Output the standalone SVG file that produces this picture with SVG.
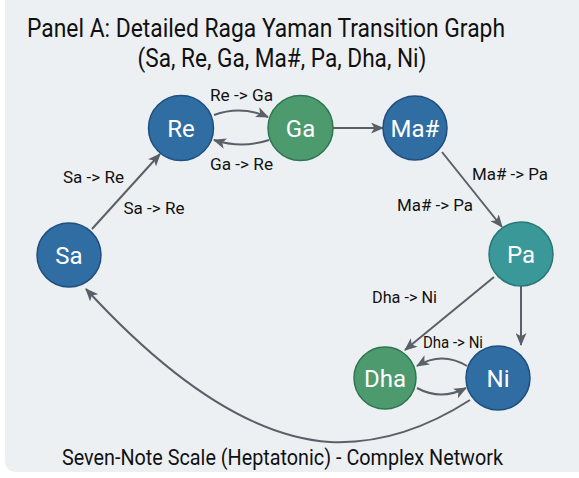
<svg xmlns="http://www.w3.org/2000/svg" width="579" height="478" viewBox="0 0 579 478">
<defs>
<marker id="ah" viewBox="0 0 12 10" refX="11" refY="5" markerWidth="13" markerHeight="11" markerUnits="userSpaceOnUse" orient="auto">
<path d="M0,0 L12,5 L0,10 L3,5 Z" fill="#5a6068"/>
</marker>
<style>
.t{font-family:Roboto,"Liberation Sans",sans-serif;fill:#111;text-anchor:middle}
.lbl{font-family:Roboto,"Liberation Sans",sans-serif;font-size:16px;fill:#111;text-anchor:middle}
.nt{font-family:Roboto,"Liberation Sans",sans-serif;font-size:24px;fill:#fff;text-anchor:middle}
.e{fill:none;stroke:#5a6068;stroke-width:2;marker-end:url(#ah)}
.blue{fill:#2f6da3;stroke:#1f4f80;stroke-width:1.5}
.green{fill:#4c9a6d;stroke:#2e7650;stroke-width:1.5}
.teal{fill:#3a9898;stroke:#287878;stroke-width:1.5}
</style>
</defs>
<rect x="0" y="0" width="579" height="478" fill="#ffffff"/>
<rect x="5" y="-10" width="584" height="482" rx="10" fill="#edf0f3"/>
<text class="t" x="266" y="37" font-size="25.5" textLength="478" lengthAdjust="spacingAndGlyphs">Panel A: Detailed Raga Yaman Transition Graph</text>
<text class="t" x="282" y="67" font-size="26" textLength="289" lengthAdjust="spacingAndGlyphs">(Sa, Re, Ga, Ma#, Pa, Dha, Ni)</text>
<g id="edges">
<path class="e" d="M92,229 L160,154"/>
<path class="e" d="M214,115 Q241,105 268,117"/>
<path class="e" d="M269,140 Q242,149 214,140"/>
<path class="e" d="M333,128 L383,128"/>
<path class="e" d="M442,152 L502,227"/>
<path class="e" d="M494,277 L405,350"/>
<path class="e" d="M521,286 L521,345"/>
<path class="e" d="M467,366 Q442,351 417,366"/>
<path class="e" d="M417,388 Q441,401 466,388"/>
<path class="e" d="M470,400 Q400,445 330,442 Q220,435 86,289"/>
</g>
<g id="edge-labels">
<text class="lbl" x="93.5" y="183" textLength="61" lengthAdjust="spacingAndGlyphs">Sa -&gt; Re</text>
<text class="lbl" x="154" y="214" textLength="61" lengthAdjust="spacingAndGlyphs">Sa -&gt; Re</text>
<text class="lbl" x="241.5" y="101" textLength="63" lengthAdjust="spacingAndGlyphs">Re -&gt; Ga</text>
<text class="lbl" x="241.5" y="170" textLength="63" lengthAdjust="spacingAndGlyphs">Ga -&gt; Re</text>
<text class="lbl" x="510" y="180" textLength="76" lengthAdjust="spacingAndGlyphs">Ma# -&gt; Pa</text>
<text class="lbl" x="435" y="211" textLength="76" lengthAdjust="spacingAndGlyphs">Ma# -&gt; Pa</text>
<text class="lbl" x="404.5" y="303" textLength="65" lengthAdjust="spacingAndGlyphs">Dha -&gt; Ni</text>
<text class="lbl" x="453" y="348" textLength="60" lengthAdjust="spacingAndGlyphs">Dha -&gt; Ni</text>
</g>
<g id="Sa"><circle class="blue" cx="69" cy="255" r="32"/><text class="nt" x="69" y="264">Sa</text></g>
<g id="Re"><circle class="blue" cx="181" cy="128" r="32.5"/><text class="nt" x="181" y="137">Re</text></g>
<g id="Ga"><circle class="green" cx="300.5" cy="128" r="32.5"/><text class="nt" x="300.5" y="137">Ga</text></g>
<g id="Ma"><circle class="blue" cx="415" cy="128" r="32"/><text class="nt" x="415" y="137">Ma#</text></g>
<g id="Pa"><circle class="teal" cx="521" cy="254" r="32"/><text class="nt" x="521" y="263">Pa</text></g>
<g id="Dha"><circle class="green" cx="385" cy="378" r="31"/><text class="nt" x="385" y="387">Dha</text></g>
<g id="Ni"><circle class="blue" cx="498" cy="378" r="32"/><text class="nt" x="498" y="387">Ni</text></g>
<text class="t" x="282.5" y="465" font-size="22" textLength="441" lengthAdjust="spacingAndGlyphs">Seven-Note Scale (Heptatonic) - Complex Network</text>
</svg>
